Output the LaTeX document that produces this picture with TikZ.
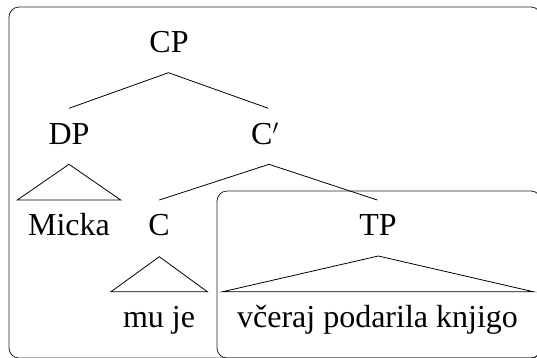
\documentclass[tikz,border=0pt]{standalone}
\usepackage{fontspec}
\setmainfont{Liberation Serif}
\begin{document}
\begin{tikzpicture}[x=1pt,y=-1pt,
  lbl/.style={anchor=base,inner sep=0pt,font=\fontsize{32}{38}\selectfont},
  edge/.style={line width=0.8pt},
  frame/.style={line width=0.8pt,draw=black!85,rounded corners=10pt}]
\useasboundingbox (0,0) rectangle (537,357);
\clip (0,0) rectangle (537,357);

% phase frames
\draw[frame] (9,7) rectangle (541,358);
\draw[frame] (217,191) rectangle (541,358);

% labels
\node[lbl] (cp)    at (169,52)  {CP};
\node[lbl] (dp)    at (69,144)  {DP};
\node[lbl] (cbar)  at (265,144) {C$'$};
\node[lbl] (micka) at (69,235)  {Micka};
\node[lbl] (c)     at (159,235) {C};
\node[lbl] (tp)    at (378,235) {TP};
\node[lbl] (muje)  at (159,327) {mu je};
\node[lbl] (vp)    at (377.5,327) {včeraj podarila knjigo};

% attachment points
\coordinate (cp-b)   at (168.5,72.7);
\coordinate (dp-t)   at (69,108.3);
\coordinate (dp-b)   at (69,164.3);
\coordinate (cbar-t) at (268.3,108.3);
\coordinate (cbar-b) at (269,164.3);
\coordinate (c-t)    at (159.3,200);
\coordinate (c-b)    at (159.3,256.7);
\coordinate (tp-t)   at (377.3,200);
\coordinate (tp-b)   at (378.3,256);

% branches
\draw[edge] (dp-t) -- (cp-b) -- (cbar-t);
\draw[edge] (c-t) -- (cbar-b) -- (tp-t);

% triangles
\draw[edge] (17.3,200) -- (dp-b) -- (120.7,200) -- cycle;
\draw[edge] (111,291.7) -- (c-b) -- (207.3,291.7) -- cycle;
\draw[edge] (222.7,291.7) -- (tp-b) -- (533.3,291.7) -- cycle;
\end{tikzpicture}
\end{document}
